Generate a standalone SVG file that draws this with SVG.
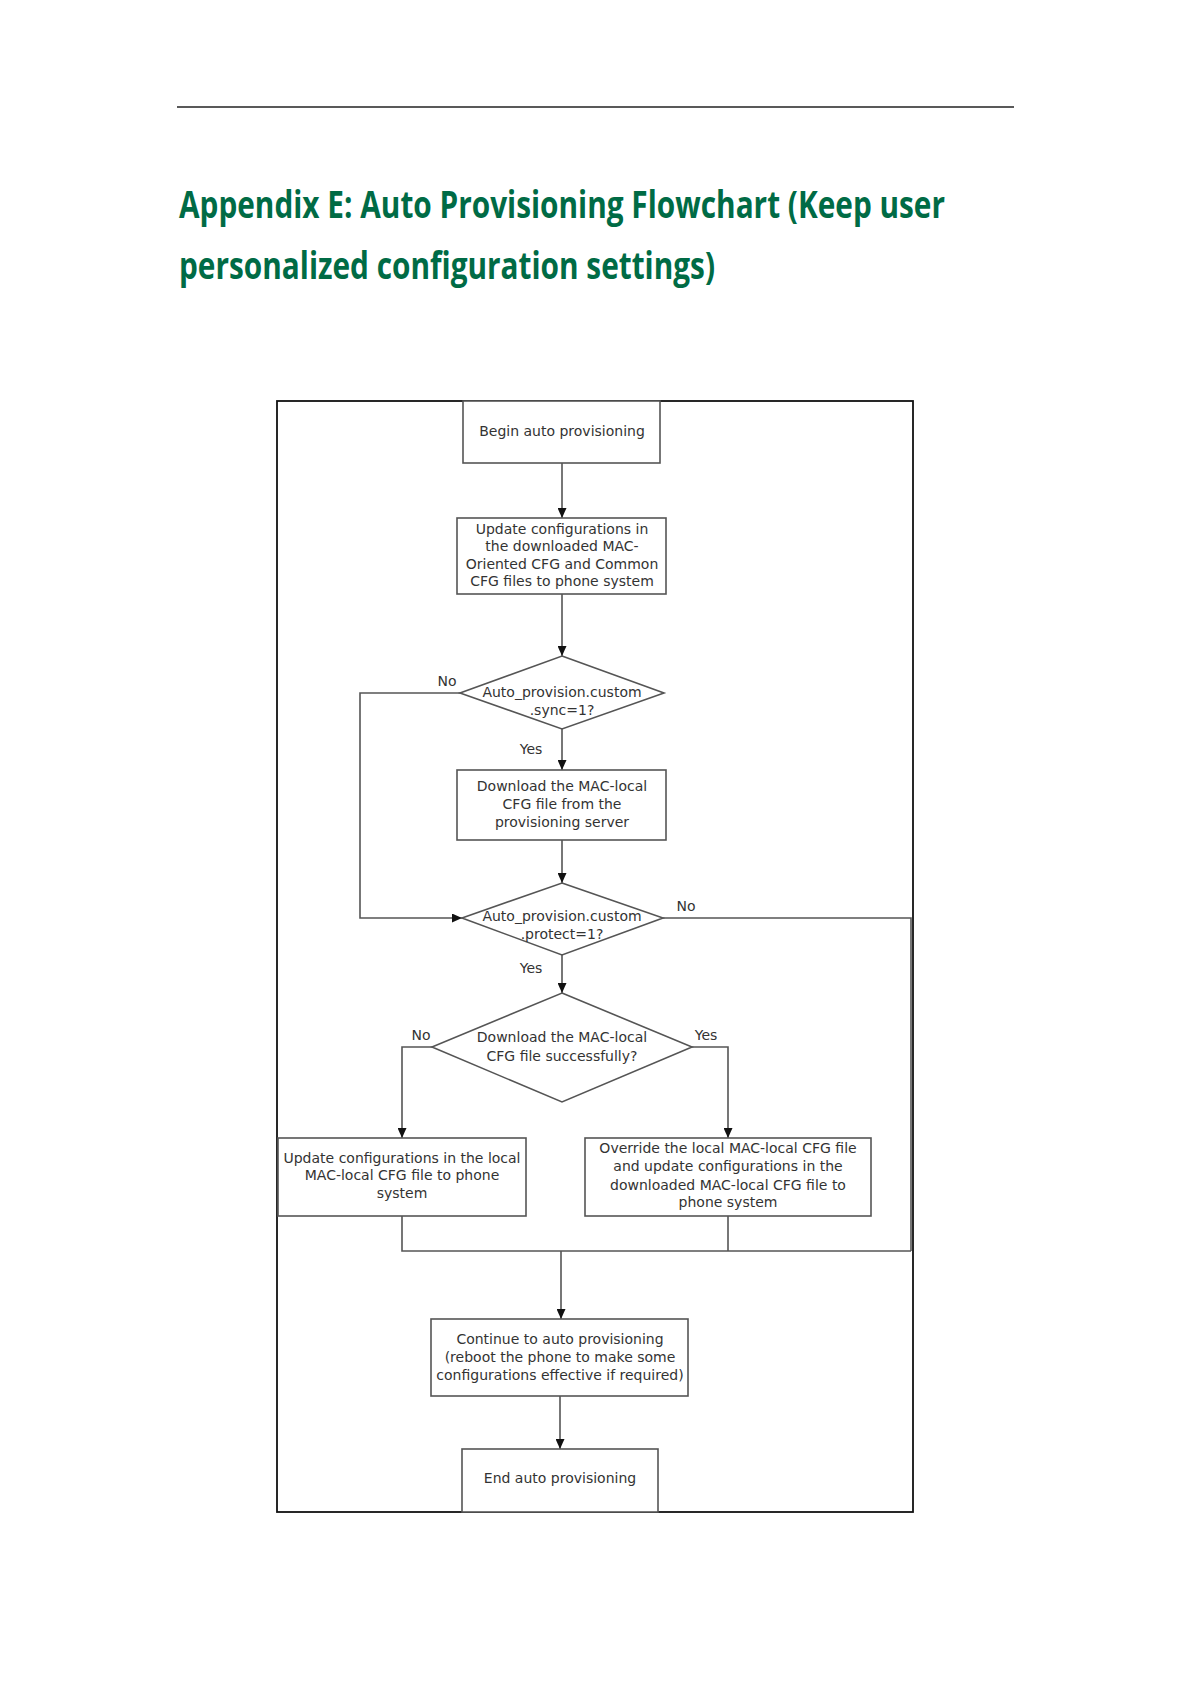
<svg xmlns="http://www.w3.org/2000/svg" width="1191" height="1684" viewBox="0 0 1191 1684">
<defs>
<style>
.title{font-family:"Open Sans","Liberation Sans",sans-serif;font-weight:700;font-size:37px;fill:#006B45}
.box{fill:#fff;stroke:#555;stroke-width:1.6}
.t{font-family:"DejaVu Sans","Liberation Sans",sans-serif;font-size:14px;fill:#333;text-anchor:middle}
.lbl{font-family:"DejaVu Sans","Liberation Sans",sans-serif;font-size:14px;fill:#333;text-anchor:middle}
.c{fill:none;stroke:#555;stroke-width:1.6}
.ca{fill:none;stroke:#555;stroke-width:1.6;marker-end:url(#arr)}
</style>
<marker id="arr" markerUnits="userSpaceOnUse" markerWidth="10" markerHeight="9" refX="10" refY="4.5" orient="auto">
<path d="M0,0 L10,4.5 L0,9 z" fill="#111"/>
</marker>
</defs>
<rect width="1191" height="1684" fill="#fff"/>
<line x1="177" y1="107" x2="1014" y2="107" stroke="#222" stroke-width="1.5"/>
<text class="title" x="179" y="218" textLength="766" lengthAdjust="spacingAndGlyphs">Appendix E: Auto Provisioning Flowchart (Keep user</text>
<text class="title" x="179" y="279" textLength="536" lengthAdjust="spacingAndGlyphs">personalized configuration settings)</text>
<rect x="277" y="401" width="636" height="1111" fill="none" stroke="#111" stroke-width="1.8"/>
<g id="connectors">
<line class="ca" x1="562" y1="463" x2="562" y2="518"/>
<line class="ca" x1="562" y1="594" x2="562" y2="656"/>
<line class="ca" x1="562" y1="729" x2="562" y2="770"/>
<line class="ca" x1="562" y1="840" x2="562" y2="883"/>
<polyline class="ca" points="460,693 360,693 360,918 462,918"/>
<line class="ca" x1="562" y1="955" x2="562" y2="993"/>
<polyline class="c" points="663,918 911,918 911,1251"/>
<polyline class="ca" points="432,1047 402,1047 402,1138"/>
<polyline class="ca" points="692,1047 728,1047 728,1138"/>
<polyline class="c" points="402,1216 402,1251 911,1251"/>
<line class="c" x1="728" y1="1216" x2="728" y2="1251"/>
<line class="ca" x1="561" y1="1251" x2="561" y2="1319"/>
<line class="ca" x1="560" y1="1396" x2="560" y2="1449"/>
<text class="lbl" x="447" y="686">No</text>
<text class="lbl" x="531" y="754">Yes</text>
<text class="lbl" x="686" y="911">No</text>
<text class="lbl" x="531" y="973">Yes</text>
<text class="lbl" x="421" y="1040">No</text>
<text class="lbl" x="706" y="1040">Yes</text>
</g>
<g id="begin">
<rect class="box" x="463" y="401" width="197" height="62"/>
<text class="t" x="562" y="436">Begin auto provisioning</text>
</g>
<g id="update-common">
<rect class="box" x="457" y="518" width="209" height="76"/>
<text class="t" x="562" y="534">Update configurations in</text>
<text class="t" x="562" y="551">the downloaded MAC-</text>
<text class="t" x="562" y="569">Oriented CFG and Common</text>
<text class="t" x="562" y="586">CFG files to phone system</text>
</g>
<g id="sync-decision">
<polygon class="box" points="562,656 664,693 562,729 460,693"/>
<text class="t" x="562" y="697">Auto_provision.custom</text>
<text class="t" x="562" y="715">.sync=1?</text>
</g>
<g id="download-local">
<rect class="box" x="457" y="770" width="209" height="70"/>
<text class="t" x="562" y="791">Download the MAC-local</text>
<text class="t" x="562" y="809">CFG file from the</text>
<text class="t" x="562" y="827">provisioning server</text>
</g>
<g id="protect-decision">
<polygon class="box" points="562,883 663,918 562,955 462,918"/>
<text class="t" x="562" y="921">Auto_provision.custom</text>
<text class="t" x="562" y="939">.protect=1?</text>
</g>
<g id="download-success">
<polygon class="box" points="562,993 692,1047 562,1102 432,1047"/>
<text class="t" x="562" y="1042">Download the MAC-local</text>
<text class="t" x="562" y="1061">CFG file successfully?</text>
</g>
<g id="update-local">
<rect class="box" x="278" y="1138" width="248" height="78"/>
<text class="t" x="402" y="1163">Update configurations in the local</text>
<text class="t" x="402" y="1180">MAC-local CFG file to phone</text>
<text class="t" x="402" y="1198">system</text>
</g>
<g id="override-local">
<rect class="box" x="585" y="1138" width="286" height="78"/>
<text class="t" x="728" y="1153">Override the local MAC-local CFG file</text>
<text class="t" x="728" y="1171">and update configurations in the</text>
<text class="t" x="728" y="1190">downloaded MAC-local CFG file to</text>
<text class="t" x="728" y="1207">phone system</text>
</g>
<g id="continue">
<rect class="box" x="431" y="1319" width="257" height="77"/>
<text class="t" x="560" y="1344">Continue to auto provisioning</text>
<text class="t" x="560" y="1362">(reboot the phone to make some</text>
<text class="t" x="560" y="1380">configurations effective if required)</text>
</g>
<g id="end">
<rect class="box" x="462" y="1449" width="196" height="63"/>
<text class="t" x="560" y="1483">End auto provisioning</text>
</g>
</svg>
